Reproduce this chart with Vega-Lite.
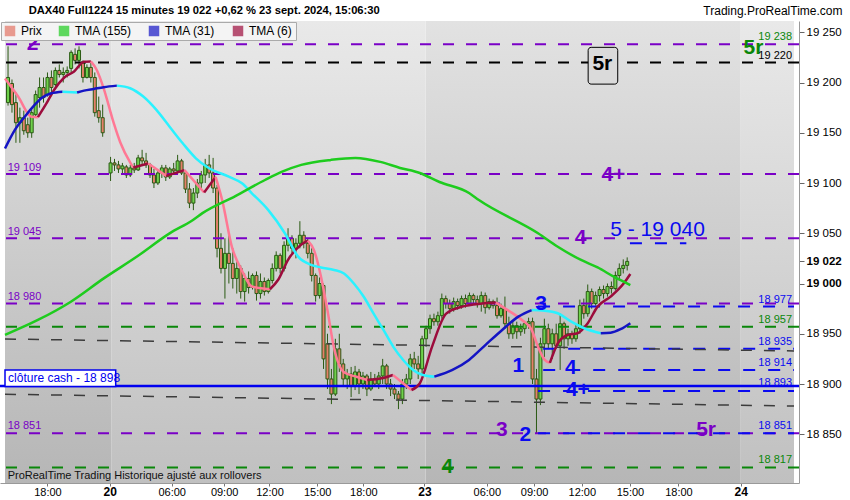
{
"$schema": "https://vega.github.io/schema/vega-lite/v6.json",
"width": 799, "height": 462,
"autosize": "none",
"padding": {"left": 0, "top": 21, "right": 51, "bottom": 17},
"background": "#ffffff",
"config": {"view": {"stroke": null}, "font": "Liberation Sans"},
"datasets": {
"bands": [{"a": -0.77, "b": 26.27, "d": "dark"}, {"a": 26.27, "b": 105.9, "d": "light"}, {"a": 105.9, "b": 185.8, "d": "dark"}, {"a": 185.8, "b": 199.3, "d": "light"}],
"bars": [
{"i":0,"o":19180,"h":19236,"l":19177,"c":19205},{"i":1,"o":19199,"h":19203,"l":19170,"c":19178},{"i":2,"o":19180,"h":19190,"l":19140,"c":19160},{"i":3,"o":19160,"h":19175,"l":19140,"c":19165},{"i":4,"o":19165,"h":19172,"l":19148,"c":19152},{"i":5,"o":19158,"h":19165,"l":19145,"c":19150},{"i":6,"o":19150,"h":19175,"l":19145,"c":19170},{"i":7,"o":19168,"h":19192,"l":19165,"c":19188},{"i":8,"o":19185,"h":19205,"l":19175,"c":19195},{"i":9,"o":19195,"h":19205,"l":19180,"c":19185},{"i":10,"o":19188,"h":19210,"l":19186,"c":19205},{"i":11,"o":19205,"h":19212,"l":19190,"c":19195},{"i":12,"o":19198,"h":19215,"l":19196,"c":19212},{"i":13,"o":19212,"h":19218,"l":19205,"c":19208},{"i":14,"o":19208,"h":19215,"l":19200,"c":19210},{"i":15,"o":19210,"h":19216,"l":19205,"c":19212},{"i":16,"o":19214,"h":19232,"l":19210,"c":19230},{"i":17,"o":19228,"h":19234,"l":19218,"c":19222},{"i":18,"o":19222,"h":19236,"l":19214,"c":19232},{"i":19,"o":19220,"h":19222,"l":19200,"c":19205},{"i":20,"o":19205,"h":19218,"l":19204,"c":19215},{"i":21,"o":19215,"h":19220,"l":19200,"c":19205},{"i":22,"o":19205,"h":19210,"l":19166,"c":19170},{"i":23,"o":19172,"h":19186,"l":19160,"c":19165},{"i":24,"o":19165,"h":19178,"l":19146,"c":19150},
{"i":26,"o":19110,"h":19126,"l":19102,"c":19120},{"i":27,"o":19120,"h":19124,"l":19112,"c":19118},{"i":28,"o":19118,"h":19122,"l":19110,"c":19114},{"i":29,"o":19114,"h":19120,"l":19108,"c":19117},{"i":30,"o":19116,"h":19118,"l":19105,"c":19108},{"i":31,"o":19108,"h":19118,"l":19106,"c":19115},{"i":32,"o":19115,"h":19120,"l":19110,"c":19113},{"i":33,"o":19113,"h":19128,"l":19112,"c":19125},{"i":34,"o":19125,"h":19133,"l":19118,"c":19122},{"i":35,"o":19122,"h":19130,"l":19115,"c":19118},{"i":36,"o":19118,"h":19120,"l":19105,"c":19108},{"i":37,"o":19108,"h":19114,"l":19095,"c":19100},{"i":38,"o":19100,"h":19112,"l":19098,"c":19110},{"i":39,"o":19110,"h":19118,"l":19105,"c":19115},{"i":40,"o":19115,"h":19118,"l":19102,"c":19106},{"i":41,"o":19106,"h":19116,"l":19104,"c":19114},{"i":42,"o":19114,"h":19120,"l":19108,"c":19112},{"i":43,"o":19112,"h":19128,"l":19110,"c":19122},{"i":44,"o":19122,"h":19124,"l":19108,"c":19110},{"i":45,"o":19110,"h":19112,"l":19090,"c":19094},{"i":46,"o":19094,"h":19100,"l":19075,"c":19080},{"i":47,"o":19080,"h":19095,"l":19073,"c":19090},{"i":48,"o":19090,"h":19104,"l":19085,"c":19100},{"i":49,"o":19100,"h":19112,"l":19095,"c":19108},{"i":50,"o":19108,"h":19124,"l":19100,"c":19118},{"i":51,"o":19118,"h":19128,"l":19105,"c":19110},{"i":52,"o":19110,"h":19125,"l":19090,"c":19095},
{"i":53,"o":19095,"h":19098,"l":19026,"c":19035},{"i":54,"o":19035,"h":19050,"l":19010,"c":19015},{"i":55,"o":19015,"h":19045,"l":18985,"c":19030},{"i":56,"o":19030,"h":19048,"l":19000,"c":19020},{"i":57,"o":19020,"h":19035,"l":18995,"c":19005},{"i":58,"o":19005,"h":19022,"l":18990,"c":19015},{"i":59,"o":19015,"h":19018,"l":18985,"c":18992},{"i":60,"o":18992,"h":19010,"l":18982,"c":19005},{"i":61,"o":19005,"h":19012,"l":18990,"c":18996},{"i":62,"o":18996,"h":19010,"l":18994,"c":19008},{"i":63,"o":19008,"h":19012,"l":18983,"c":18990},{"i":64,"o":18990,"h":19010,"l":18985,"c":19002},{"i":65,"o":19002,"h":19006,"l":18988,"c":18992},{"i":66,"o":18992,"h":19005,"l":18990,"c":19003},{"i":67,"o":19003,"h":19020,"l":19000,"c":19015},{"i":68,"o":19015,"h":19032,"l":19012,"c":19028},{"i":69,"o":19028,"h":19030,"l":19010,"c":19015},{"i":70,"o":19015,"h":19042,"l":19012,"c":19038},{"i":71,"o":19038,"h":19055,"l":19032,"c":19045},{"i":72,"o":19045,"h":19048,"l":19030,"c":19035},{"i":73,"o":19035,"h":19045,"l":19025,"c":19040},{"i":74,"o":19040,"h":19062,"l":19035,"c":19048},{"i":75,"o":19048,"h":19052,"l":19035,"c":19040},{"i":76,"o":19040,"h":19045,"l":19025,"c":19030},{"i":77,"o":19030,"h":19035,"l":19002,"c":19008},{"i":78,"o":19008,"h":19010,"l":18982,"c":18988},{"i":79,"o":18988,"h":19006,"l":18985,"c":19000},{"i":80,"o":18998,"h":19000,"l":18915,"c":18925},{"i":81,"o":18940,"h":18950,"l":18895,"c":18905},{"i":82,"o":18905,"h":18915,"l":18880,"c":18890},{"i":83,"o":18890,"h":18945,"l":18888,"c":18935},{"i":84,"o":18935,"h":18950,"l":18912,"c":18920},{"i":85,"o":18920,"h":18925,"l":18898,"c":18905},{"i":86,"o":18905,"h":18915,"l":18895,"c":18910},{"i":87,"o":18910,"h":18917,"l":18887,"c":18898},{"i":88,"o":18898,"h":18918,"l":18894,"c":18912},{"i":89,"o":18912,"h":18915,"l":18890,"c":18900},{"i":90,"o":18900,"h":18912,"l":18895,"c":18908},{"i":91,"o":18908,"h":18910,"l":18888,"c":18895},{"i":92,"o":18895,"h":18912,"l":18893,"c":18905},{"i":93,"o":18905,"h":18910,"l":18897,"c":18900},{"i":94,"o":18900,"h":18912,"l":18895,"c":18908},{"i":95,"o":18908,"h":18925,"l":18900,"c":18918},{"i":96,"o":18918,"h":18920,"l":18895,"c":18900},{"i":97,"o":18900,"h":18905,"l":18888,"c":18895},{"i":98,"o":18895,"h":18900,"l":18885,"c":18890},{"i":99,"o":18890,"h":18893,"l":18875,"c":18885},{"i":100,"o":18885,"h":18905,"l":18880,"c":18900},{"i":101,"o":18900,"h":18910,"l":18895,"c":18905},{"i":102,"o":18905,"h":18930,"l":18900,"c":18925},{"i":103,"o":18925,"h":18932,"l":18915,"c":18920},{"i":104,"o":18920,"h":18928,"l":18905,"c":18915},
{"i":105,"o":18915,"h":18948,"l":18910,"c":18945},{"i":106,"o":18945,"h":18958,"l":18937,"c":18955},{"i":107,"o":18955,"h":18969,"l":18950,"c":18965},{"i":108,"o":18965,"h":18970,"l":18958,"c":18962},{"i":109,"o":18962,"h":18972,"l":18958,"c":18968},{"i":110,"o":18968,"h":18990,"l":18965,"c":18985},{"i":111,"o":18985,"h":18988,"l":18975,"c":18980},{"i":112,"o":18980,"h":18984,"l":18970,"c":18975},{"i":113,"o":18975,"h":18986,"l":18972,"c":18982},{"i":114,"o":18982,"h":18985,"l":18974,"c":18978},{"i":115,"o":18978,"h":18988,"l":18975,"c":18985},{"i":116,"o":18985,"h":18989,"l":18976,"c":18980},{"i":117,"o":18980,"h":18991,"l":18978,"c":18988},{"i":118,"o":18988,"h":18990,"l":18980,"c":18984},{"i":119,"o":18984,"h":18988,"l":18976,"c":18980},{"i":120,"o":18980,"h":18992,"l":18972,"c":18988},{"i":121,"o":18988,"h":18991,"l":18970,"c":18976},{"i":122,"o":18976,"h":18985,"l":18974,"c":18982},{"i":123,"o":18982,"h":18984,"l":18975,"c":18978},{"i":124,"o":18978,"h":18986,"l":18965,"c":18968},{"i":125,"o":18968,"h":18980,"l":18966,"c":18975},{"i":126,"o":18975,"h":18987,"l":18955,"c":18960},{"i":127,"o":18960,"h":18967,"l":18945,"c":18950},{"i":128,"o":18950,"h":18962,"l":18945,"c":18958},{"i":129,"o":18958,"h":18962,"l":18945,"c":18952},{"i":130,"o":18952,"h":18960,"l":18948,"c":18955},{"i":131,"o":18955,"h":18962,"l":18950,"c":18960},{"i":132,"o":18960,"h":18966,"l":18955,"c":18962},{"i":133,"o":18962,"h":18966,"l":18900,"c":18905},{"i":134,"o":18905,"h":18915,"l":18851,"c":18885},{"i":135,"o":18885,"h":18946,"l":18879,"c":18940},{"i":136,"o":18940,"h":18965,"l":18927,"c":18955},{"i":137,"o":18955,"h":18960,"l":18935,"c":18940},{"i":138,"o":18940,"h":18955,"l":18925,"c":18950},{"i":139,"o":18950,"h":18960,"l":18935,"c":18938},{"i":140,"o":18938,"h":18970,"l":18914,"c":18960},{"i":141,"o":18960,"h":18962,"l":18935,"c":18945},{"i":142,"o":18945,"h":18955,"l":18938,"c":18950},{"i":143,"o":18950,"h":18953,"l":18940,"c":18945},{"i":144,"o":18945,"h":18960,"l":18942,"c":18955},{"i":145,"o":18955,"h":18984,"l":18950,"c":18978},{"i":146,"o":18978,"h":18985,"l":18965,"c":18970},{"i":147,"o":18970,"h":18999,"l":18967,"c":18992},{"i":148,"o":18992,"h":18995,"l":18975,"c":18980},{"i":149,"o":18980,"h":18992,"l":18978,"c":18988},{"i":150,"o":18988,"h":18997,"l":18982,"c":18994},{"i":151,"o":18994,"h":18998,"l":18985,"c":18990},{"i":152,"o":18990,"h":19000,"l":18987,"c":18997},{"i":153,"o":18997,"h":19002,"l":18990,"c":18995},{"i":154,"o":18995,"h":19012,"l":18993,"c":19008},{"i":155,"o":19008,"h":19020,"l":19003,"c":19015},{"i":156,"o":19015,"h":19024,"l":19010,"c":19018},{"i":157,"o":19018,"h":19026,"l":19013,"c":19022}
],
"tma": [
{"g":"a1","k":"TMA (6) dn","i":-0.77,"v":19204},{"g":"a1","k":"TMA (6) dn","i":2.56,"v":19186},{"g":"a1","k":"TMA (6) dn","i":5.92,"v":19166},{"g":"a1","k":"TMA (6) dn","i":7.57,"v":19165.5},
{"g":"a2","k":"TMA (6)","i":7.57,"v":19165.5},{"g":"a2","k":"TMA (6)","i":10,"v":19181},{"g":"a2","k":"TMA (6)","i":11.75,"v":19193},{"g":"a2","k":"TMA (6)","i":14.26,"v":19205},{"g":"a2","k":"TMA (6)","i":16.76,"v":19211},{"g":"a2","k":"TMA (6)","i":19.26,"v":19220.7},{"g":"a2","k":"TMA (6)","i":21,"v":19221},
{"g":"a3","k":"TMA (6) dn","i":21,"v":19221},{"g":"a3","k":"TMA (6) dn","i":22.5,"v":19212.5},{"g":"a3","k":"TMA (6) dn","i":24.27,"v":19194},{"g":"a3","k":"TMA (6) dn","i":26.77,"v":19160},{"g":"a3","k":"TMA (6) dn","i":28.5,"v":19140},{"g":"a3","k":"TMA (6) dn","i":31.03,"v":19120},{"g":"a3","k":"TMA (6) dn","i":31.78,"v":19115.4},
{"g":"a4","k":"TMA (6)","i":31.78,"v":19115.4},{"g":"a4","k":"TMA (6)","i":35.54,"v":19119.4},
{"g":"a5","k":"TMA (6) dn","i":35.54,"v":19119.4},{"g":"a5","k":"TMA (6) dn","i":40.12,"v":19107.1},
{"g":"a6","k":"TMA (6)","i":40.12,"v":19107.1},{"g":"a6","k":"TMA (6)","i":44.73,"v":19112.8},
{"g":"a7","k":"TMA (6) dn","i":44.73,"v":19112.8},{"g":"a7","k":"TMA (6) dn","i":49.73,"v":19090.6},
{"g":"a8","k":"TMA (6)","i":49.73,"v":19090.6},{"g":"a8","k":"TMA (6)","i":52.64,"v":19106.1},
{"g":"a9","k":"TMA (6) dn","i":52.64,"v":19106.1},{"g":"a9","k":"TMA (6) dn","i":54.3,"v":19083},{"g":"a9","k":"TMA (6) dn","i":56.8,"v":19036},{"g":"a9","k":"TMA (6) dn","i":59.3,"v":19013},{"g":"a9","k":"TMA (6) dn","i":61.83,"v":18997},{"g":"a9","k":"TMA (6) dn","i":66.41,"v":18994.3},
{"g":"a10","k":"TMA (6)","i":66.41,"v":18994.3},{"g":"a10","k":"TMA (6)","i":68.5,"v":19003.7},{"g":"a10","k":"TMA (6)","i":71.0,"v":19023.6},{"g":"a10","k":"TMA (6)","i":74.3,"v":19038.6},{"g":"a10","k":"TMA (6)","i":76.02,"v":19042.7},
{"g":"a11","k":"TMA (6) dn","i":76.02,"v":19042.7},{"g":"a11","k":"TMA (6) dn","i":77.6,"v":19033},{"g":"a11","k":"TMA (6) dn","i":79.35,"v":19007},{"g":"a11","k":"TMA (6) dn","i":81.1,"v":18971},{"g":"a11","k":"TMA (6) dn","i":82.6,"v":18937},{"g":"a11","k":"TMA (6) dn","i":85.1,"v":18912},{"g":"a11","k":"TMA (6) dn","i":88.54,"v":18907},{"g":"a11","k":"TMA (6) dn","i":91.1,"v":18904},
{"g":"a12","k":"TMA (6)","i":91.1,"v":18904},{"g":"a12","k":"TMA (6)","i":95.1,"v":18906},{"g":"a12","k":"TMA (6)","i":97.6,"v":18909},
{"g":"a13","k":"TMA (6) dn","i":97.6,"v":18909},{"g":"a13","k":"TMA (6) dn","i":100.1,"v":18901},{"g":"a13","k":"TMA (6) dn","i":102.3,"v":18894},
{"g":"a14","k":"TMA (6)","i":102.3,"v":18894},{"g":"a14","k":"TMA (6)","i":104.4,"v":18900.5},{"g":"a14","k":"TMA (6)","i":107.6,"v":18938},{"g":"a14","k":"TMA (6)","i":111.1,"v":18970},{"g":"a14","k":"TMA (6)","i":115.2,"v":18977},{"g":"a14","k":"TMA (6)","i":120.2,"v":18980},{"g":"a14","k":"TMA (6)","i":123.7,"v":18981},
{"g":"a15","k":"TMA (6) dn","i":123.7,"v":18981},{"g":"a15","k":"TMA (6) dn","i":126.9,"v":18973},{"g":"a15","k":"TMA (6) dn","i":130.3,"v":18963.7},{"g":"a15","k":"TMA (6) dn","i":132.8,"v":18953.8},{"g":"a15","k":"TMA (6) dn","i":134.4,"v":18937},{"g":"a15","k":"TMA (6) dn","i":136.1,"v":18924},{"g":"a15","k":"TMA (6) dn","i":137.4,"v":18921},
{"g":"a16","k":"TMA (6)","i":137.4,"v":18921},{"g":"a16","k":"TMA (6)","i":139.4,"v":18940.5},{"g":"a16","k":"TMA (6)","i":141.9,"v":18948.8},{"g":"a16","k":"TMA (6)","i":144.4,"v":18950.5},{"g":"a16","k":"TMA (6)","i":146.9,"v":18960},{"g":"a16","k":"TMA (6)","i":149.5,"v":18977},{"g":"a16","k":"TMA (6)","i":152.8,"v":18987},{"g":"a16","k":"TMA (6)","i":156.1,"v":19000},{"g":"a16","k":"TMA (6)","i":157.8,"v":19009.5},
{"g":"b1","k":"TMA (31)","i":-0.77,"v":19134.3},{"g":"b1","k":"TMA (31)","i":1.74,"v":19152.8},{"g":"b1","k":"TMA (31)","i":4.24,"v":19166},{"g":"b1","k":"TMA (31)","i":6.75,"v":19177.7},{"g":"b1","k":"TMA (31)","i":8.42,"v":19184.3},{"g":"b1","k":"TMA (31)","i":10.93,"v":19189.3},{"g":"b1","k":"TMA (31)","i":13.83,"v":19190.9},
{"g":"b2","k":"TMA (31) dn","i":13.83,"v":19190.9},{"g":"b2","k":"TMA (31) dn","i":17.51,"v":19190},
{"g":"b3","k":"TMA (31)","i":17.51,"v":19190},{"g":"b3","k":"TMA (31)","i":19.26,"v":19191.9},{"g":"b3","k":"TMA (31)","i":21.77,"v":19193.6},{"g":"b3","k":"TMA (31)","i":24.27,"v":19195.3},{"g":"b3","k":"TMA (31)","i":27.6,"v":19196.9},
{"g":"b4","k":"TMA (31) dn","i":27.6,"v":19196.9},{"g":"b4","k":"TMA (31) dn","i":30.96,"v":19194.3},{"g":"b4","k":"TMA (31) dn","i":34.29,"v":19186},{"g":"b4","k":"TMA (31) dn","i":37.62,"v":19172.7},{"g":"b4","k":"TMA (31) dn","i":40.97,"v":19156},{"g":"b4","k":"TMA (31) dn","i":44.3,"v":19139.5},{"g":"b4","k":"TMA (31) dn","i":47.63,"v":19124.6},{"g":"b4","k":"TMA (31) dn","i":50.99,"v":19114.7},{"g":"b4","k":"TMA (31) dn","i":55.99,"v":19106.3},{"g":"b4","k":"TMA (31) dn","i":59.32,"v":19099.7},{"g":"b4","k":"TMA (31) dn","i":61.83,"v":19089.8},{"g":"b4","k":"TMA (31) dn","i":66.0,"v":19073},{"g":"b4","k":"TMA (31) dn","i":70.2,"v":19050},{"g":"b4","k":"TMA (31) dn","i":73.5,"v":19027},{"g":"b4","k":"TMA (31) dn","i":76.85,"v":19018.6},{"g":"b4","k":"TMA (31) dn","i":79.35,"v":19016},{"g":"b4","k":"TMA (31) dn","i":82.68,"v":19013.5},{"g":"b4","k":"TMA (31) dn","i":85.19,"v":19010},{"g":"b4","k":"TMA (31) dn","i":87.69,"v":19000},{"g":"b4","k":"TMA (31) dn","i":90.2,"v":18986.8},{"g":"b4","k":"TMA (31) dn","i":92.7,"v":18970},{"g":"b4","k":"TMA (31) dn","i":95.2,"v":18953.8},{"g":"b4","k":"TMA (31) dn","i":97.7,"v":18937},{"g":"b4","k":"TMA (31) dn","i":100.2,"v":18923.9},{"g":"b4","k":"TMA (31) dn","i":102.7,"v":18914},{"g":"b4","k":"TMA (31) dn","i":105.2,"v":18909},{"g":"b4","k":"TMA (31) dn","i":108.1,"v":18907.3},
{"g":"b5","k":"TMA (31)","i":108.1,"v":18907.3},{"g":"b5","k":"TMA (31)","i":112.7,"v":18914},{"g":"b5","k":"TMA (31)","i":116.9,"v":18924},{"g":"b5","k":"TMA (31)","i":121.1,"v":18939},{"g":"b5","k":"TMA (31)","i":125.3,"v":18953.8},{"g":"b5","k":"TMA (31)","i":129.4,"v":18967},{"g":"b5","k":"TMA (31)","i":132.8,"v":18973.6},
{"g":"b6","k":"TMA (31) dn","i":132.8,"v":18973.6},{"g":"b6","k":"TMA (31) dn","i":136.1,"v":18973},{"g":"b6","k":"TMA (31) dn","i":139.4,"v":18970.4},{"g":"b6","k":"TMA (31) dn","i":142.8,"v":18962},{"g":"b6","k":"TMA (31) dn","i":146.1,"v":18955.5},{"g":"b6","k":"TMA (31) dn","i":150.3,"v":18950.5},
{"g":"b7","k":"TMA (31)","i":150.3,"v":18950.5},{"g":"b7","k":"TMA (31)","i":152.8,"v":18951},{"g":"b7","k":"TMA (31)","i":155.3,"v":18954.5},{"g":"b7","k":"TMA (31)","i":157.8,"v":18960.5},
{"g":"c1","k":"TMA (155)","i":-0.77,"v":18948.9},{"g":"c1","k":"TMA (155)","i":7.57,"v":18963.7},{"g":"c1","k":"TMA (155)","i":15.93,"v":18981.9},{"g":"c1","k":"TMA (155)","i":24.27,"v":19005.1},{"g":"c1","k":"TMA (155)","i":32.6,"v":19026.6},{"g":"c1","k":"TMA (155)","i":40.97,"v":19049.9},{"g":"c1","k":"TMA (155)","i":46.8,"v":19063},{"g":"c1","k":"TMA (155)","i":49.3,"v":19070},{"g":"c1","k":"TMA (155)","i":57.65,"v":19087},{"g":"c1","k":"TMA (155)","i":65.16,"v":19103},{"g":"c1","k":"TMA (155)","i":69.35,"v":19111},{"g":"c1","k":"TMA (155)","i":74.35,"v":19118},{"g":"c1","k":"TMA (155)","i":81.86,"v":19123},{"g":"c1","k":"TMA (155)","i":88.1,"v":19125},{"g":"c1","k":"TMA (155)","i":94.4,"v":19121},{"g":"c1","k":"TMA (155)","i":99.4,"v":19115},{"g":"c1","k":"TMA (155)","i":104.4,"v":19110},{"g":"c1","k":"TMA (155)","i":109.4,"v":19101},{"g":"c1","k":"TMA (155)","i":116.9,"v":19090},{"g":"c1","k":"TMA (155)","i":119.4,"v":19083},{"g":"c1","k":"TMA (155)","i":134.4,"v":19050},{"g":"c1","k":"TMA (155)","i":139.4,"v":19036.6},{"g":"c1","k":"TMA (155)","i":145.3,"v":19023.4},{"g":"c1","k":"TMA (155)","i":149.5,"v":19016},{"g":"c1","k":"TMA (155)","i":153.6,"v":19006.8},{"g":"c1","k":"TMA (155)","i":157.8,"v":18998.5}
],
"levels": [{"p":19238,"k":"purple"},{"p":19220,"k":"black"},{"p":19109,"k":"purple"},{"p":19045,"k":"purple"},{"p":18980,"k":"purple"},{"p":18957,"k":"green"},{"p":18851,"k":"purple"},{"p":18817,"k":"green"}],
"partial": [{"p":18977,"a":134.4,"b":199.3},{"p":18935,"a":135.7,"b":199.3},{"p":18914,"a":135.7,"b":199.3},{"p":18893,"a":134.4,"b":199.3},{"p":18851,"a":134.4,"b":199.3},{"p":19040,"a":157.7,"b":172}],
"trend": [{"a":-0.77,"p0":18944.8,"b":199.3,"p1":18932.9},{"a":-0.77,"p0":18889.8,"b":199.3,"p1":18878.1}],
"big": [{"i":6.2,"p":19238,"t":"2","k":"purple"},{"i":189,"p":19234,"t":"5r","k":"green"},{"i":153.5,"p":19108,"t":"4+","k":"purple"},{"i":145.2,"p":19045,"t":"4","k":"purple"},{"i":135.2,"p":18980,"t":"3","k":"blue"},{"i":129.4,"p":18918,"t":"1","k":"blue"},{"i":142.7,"p":18916,"t":"4","k":"blue"},{"i":144.5,"p":18894,"t":"4+","k":"blue"},{"i":125.2,"p":18854,"t":"3","k":"purple"},{"i":131.2,"p":18849,"t":"2","k":"blue"},{"i":177,"p":18854,"t":"5r","k":"purple"},{"i":111.4,"p":18817,"t":"4","k":"green"},{"i":150.7,"p":19218,"t":"5r","k":"black"}],
"leftlab": [{"p":19246,"t":"19 238"},{"p":19115.3,"t":"19 109"},{"p":19050.8,"t":"19 045"},{"p":18986.3,"t":"18 980"},{"p":18858.6,"t":"18 851"}],
"rightlab": [{"p":19245.3,"t":"19 238","k":"green"},{"p":19226.4,"t":"19 220","k":"black"},{"p":18983.8,"t":"18 977","k":"blue"},{"p":18963.9,"t":"18 957","k":"green"},{"p":18941.8,"t":"18 935","k":"blue"},{"p":18920.9,"t":"18 914","k":"blue"},{"p":18901,"t":"18 893","k":"blue"},{"p":18858,"t":"18 851","k":"blue"},{"p":18824.4,"t":"18 817","k":"green"}]
},
"layer": [
{"data": {"name": "bands"}, "transform": [{"filter": "datum.d == 'dark'"}],
 "mark": {"type": "rect", "color": {"gradient": "linear", "x1": 0, "y1": 0, "x2": 0, "y2": 1, "stops": [{"offset": 0, "color": "#e2e2e2"}, {"offset": 1, "color": "#b6b6b6"}]}},
 "encoding": {"x": {"field": "a", "type": "quantitative", "scale": {"domain": [-0.77, 199.3], "nice": false, "zero": false}}, "x2": {"field": "b"}}},
{"data": {"name": "bands"}, "transform": [{"filter": "datum.d == 'light'"}],
 "mark": {"type": "rect", "color": {"gradient": "linear", "x1": 0, "y1": 0, "x2": 0, "y2": 1, "stops": [{"offset": 0, "color": "#e9e9e9"}, {"offset": 1, "color": "#c0c0c0"}]}},
 "encoding": {"x": {"field": "a", "type": "quantitative", "scale": {"domain": [-0.77, 199.3], "nice": false, "zero": false}}, "x2": {"field": "b"}}},
{"data": {"name": "bars"}, "mark": {"type": "rule", "color": "#2b5a14", "strokeWidth": 1, "clip": true},
 "encoding": {
  "x": {"field": "i", "type": "quantitative", "scale": {"domain": [-0.77, 199.3], "nice": false, "zero": false},
   "axis": {"title": null, "grid": false, "values": [10, 25.8, 41.5, 54.8, 66.3, 78.4, 90.1, 105.6, 121.4, 133.4, 145.5, 157.7, 170, 185.8],
    "labelExpr": "['18:00','20','06:00','09:00','12:00','15:00','18:00','23','06:00','09:00','12:00','15:00','18:00','24'][indexof([10,25.8,41.5,54.8,66.3,78.4,90.1,105.6,121.4,133.4,145.5,157.7,170,185.8], datum.value)]",
    "labelFont": "Liberation Sans", "labelFontSize": {"condition": {"test": "datum.value == 25.8 || datum.value == 105.6 || datum.value == 185.8", "value": 12}, "value": 11},
    "labelFontWeight": {"condition": {"test": "datum.value == 25.8 || datum.value == 105.6 || datum.value == 185.8", "value": "bold"}, "value": "normal"},
    "labelColor": "#000000", "labelPadding": 0, "tickSize": 3, "tickColor": "#777777", "domainColor": "#999999", "labelOverlap": false, "labelFlush": false}},
  "y": {"field": "l", "type": "quantitative", "scale": {"domain": [18801.5, 19261.2], "nice": false, "zero": false},
   "axis": {"orient": "right", "grid": false, "title": null, "values": [18850, 18900, 18950, 19000, 19022, 19050, 19100, 19150, 19200, 19250],
    "labelExpr": "replace(format(datum.value, ','), ',', ' ')",
    "labelFont": "Liberation Sans", "labelFontSize": 11.5, "labelColor": "#000000",
    "labelFontWeight": {"condition": {"test": "datum.value == 19000 || datum.value == 19022", "value": "bold"}, "value": "normal"},
    "labelPadding": 2, "tickSize": 5, "tickColor": "#666666", "domainColor": "#999999", "labelOverlap": false}},
  "y2": {"field": "h"}}},
{"data": {"name": "bars"}, "mark": {"type": "bar", "size": 3, "stroke": "#2b5a14", "strokeWidth": 1, "clip": true},
 "encoding": {"x": {"field": "i", "type": "quantitative", "scale": {"domain": [-0.77, 199.3], "nice": false, "zero": false}},
  "y": {"field": "o", "type": "quantitative", "scale": {"domain": [18801.5, 19261.2], "nice": false, "zero": false}},
  "y2": {"field": "c"},
  "fill": {"condition": {"test": "datum.c >= datum.o", "value": "#6fd24c"}, "value": "#e5806a"}}},
{"data": {"name": "levels"}, "mark": {"type": "rule", "strokeDash": [11, 12], "strokeWidth": 2},
 "encoding": {"y": {"field": "p", "type": "quantitative", "scale": {"domain": [18801.5, 19261.2], "nice": false, "zero": false}},
  "color": {"field": "k", "type": "nominal", "scale": {"domain": ["purple", "blue", "green", "black"], "range": ["#7a00c6", "#0a0af0", "#0a870a", "#000000"]}, "legend": null}}},
{"data": {"name": "partial"}, "mark": {"type": "rule", "strokeDash": [12, 13], "strokeWidth": 2, "color": "#0a0af0", "clip": true},
 "encoding": {"x": {"field": "a", "type": "quantitative", "scale": {"domain": [-0.77, 199.3], "nice": false, "zero": false}}, "x2": {"field": "b"},
  "y": {"field": "p", "type": "quantitative", "scale": {"domain": [18801.5, 19261.2], "nice": false, "zero": false}}}},
{"data": {"name": "trend"}, "mark": {"type": "rule", "strokeDash": [11, 12], "strokeWidth": 1.5, "color": "#3c3c3c", "clip": true},
 "encoding": {"x": {"field": "a", "type": "quantitative", "scale": {"domain": [-0.77, 199.3], "nice": false, "zero": false}}, "x2": {"field": "b"},
  "y": {"field": "p0", "type": "quantitative", "scale": {"domain": [18801.5, 19261.2], "nice": false, "zero": false}}, "y2": {"field": "p1"}}},
{"data": {"values": [{"p": 18898}]}, "mark": {"type": "rule", "strokeWidth": 2.5, "color": "#0000f0"},
 "encoding": {"y": {"field": "p", "type": "quantitative", "scale": {"domain": [18801.5, 19261.2], "nice": false, "zero": false}}}},
{"data": {"name": "tma"}, "mark": {"type": "line", "strokeWidth": 2.5, "interpolate": "monotone", "clip": true},
 "encoding": {"x": {"field": "i", "type": "quantitative", "scale": {"domain": [-0.77, 199.3], "nice": false, "zero": false}},
  "y": {"field": "v", "type": "quantitative", "scale": {"domain": [18801.5, 19261.2], "nice": false, "zero": false}},
  "stroke": {"field": "k", "type": "nominal", "scale": {"domain": ["TMA (155)", "TMA (31)", "TMA (31) dn", "TMA (6)", "TMA (6) dn"], "range": ["#1ecc1e", "#1414c4", "#2af2ff", "#9c0c3c", "#ff7894"]}, "legend": null},
  "detail": {"field": "g"}}},
{"data": {"values": [{"a": -0.77, "b": 27.3, "p0": 18897.5, "p1": 18914}]}, "mark": {"type": "rect", "fill": "#ffffff", "stroke": "#0000f0", "strokeWidth": 1.5},
 "encoding": {"x": {"field": "a", "type": "quantitative", "scale": {"domain": [-0.77, 199.3], "nice": false, "zero": false}}, "x2": {"field": "b"},
  "y": {"field": "p0", "type": "quantitative", "scale": {"domain": [18801.5, 19261.2], "nice": false, "zero": false}}, "y2": {"field": "p1"}}},
{"data": {"values": [{"t": "clôture cash -  18 898"}]}, "mark": {"type": "text", "align": "left", "baseline": "middle", "font": "Liberation Sans", "fontSize": 12, "color": "#0000f0"},
 "encoding": {"x": {"datum": 0, "type": "quantitative", "scale": {"domain": [-0.77, 199.3], "nice": false, "zero": false}},
  "y": {"datum": 18905.5, "type": "quantitative", "scale": {"domain": [18801.5, 19261.2], "nice": false, "zero": false}}, "text": {"field": "t"}}},
{"data": {"values": [{"a": 147.1, "b": 154.6, "p0": 19198.4, "p1": 19235}]}, "mark": {"type": "rect", "fill": "#dadada", "stroke": "#000000", "strokeWidth": 1, "cornerRadius": 3},
 "encoding": {"x": {"field": "a", "type": "quantitative", "scale": {"domain": [-0.77, 199.3], "nice": false, "zero": false}}, "x2": {"field": "b"},
  "y": {"field": "p0", "type": "quantitative", "scale": {"domain": [18801.5, 19261.2], "nice": false, "zero": false}}, "y2": {"field": "p1"}}},
{"data": {"name": "big"}, "mark": {"type": "text", "align": "center", "baseline": "middle", "font": "Liberation Sans", "fontSize": 21, "fontWeight": "bold"},
 "encoding": {"x": {"field": "i", "type": "quantitative", "scale": {"domain": [-0.77, 199.3], "nice": false, "zero": false}},
  "y": {"field": "p", "type": "quantitative", "scale": {"domain": [18801.5, 19261.2], "nice": false, "zero": false}},
  "text": {"field": "t"},
  "color": {"field": "k", "type": "nominal", "scale": {"domain": ["purple", "blue", "green", "black"], "range": ["#7a00c6", "#0a0af0", "#0a870a", "#000000"]}, "legend": null}}},
{"data": {"values": [{"t": "5 - 19 040"}]}, "mark": {"type": "text", "align": "center", "baseline": "middle", "font": "Liberation Sans", "fontSize": 21, "color": "#0a0af0"},
 "encoding": {"x": {"datum": 164.7, "type": "quantitative", "scale": {"domain": [-0.77, 199.3], "nice": false, "zero": false}},
  "y": {"datum": 19053, "type": "quantitative", "scale": {"domain": [18801.5, 19261.2], "nice": false, "zero": false}}, "text": {"field": "t"}}},
{"data": {"name": "leftlab"}, "mark": {"type": "text", "align": "left", "baseline": "middle", "font": "Liberation Sans", "fontSize": 11, "color": "#7a00c6"},
 "encoding": {"x": {"datum": -0.1, "type": "quantitative", "scale": {"domain": [-0.77, 199.3], "nice": false, "zero": false}},
  "y": {"field": "p", "type": "quantitative", "scale": {"domain": [18801.5, 19261.2], "nice": false, "zero": false}}, "text": {"field": "t"}}},
{"data": {"name": "rightlab"}, "mark": {"type": "text", "align": "right", "baseline": "middle", "font": "Liberation Sans", "fontSize": 11},
 "encoding": {"x": {"datum": 198.8, "type": "quantitative", "scale": {"domain": [-0.77, 199.3], "nice": false, "zero": false}},
  "y": {"field": "p", "type": "quantitative", "scale": {"domain": [18801.5, 19261.2], "nice": false, "zero": false}}, "text": {"field": "t"},
  "color": {"field": "k", "type": "nominal", "scale": {"domain": ["purple", "blue", "green", "black"], "range": ["#7a00c6", "#0a0af0", "#0a870a", "#000000"]}, "legend": null}}},
{"data": {"values": [{"t": "ProRealTime Trading Historique ajusté aux rollovers"}]}, "mark": {"type": "text", "align": "left", "baseline": "middle", "font": "Liberation Sans", "fontSize": 11, "color": "#111111"},
 "encoding": {"x": {"datum": -0.1, "type": "quantitative", "scale": {"domain": [-0.77, 199.3], "nice": false, "zero": false}},
  "y": {"datum": 18808.5, "type": "quantitative", "scale": {"domain": [18801.5, 19261.2], "nice": false, "zero": false}}, "text": {"field": "t"}}},
{"data": {"values": [{"t": "DAX40 Full1224 15 minutes 19 022 +0,62 % 23 sept. 2024, 15:06:30"}]}, "mark": {"type": "text", "align": "left", "baseline": "middle", "font": "Liberation Sans", "fontSize": 11.2, "fontWeight": "bold", "color": "#000000"},
 "encoding": {"x": {"datum": 5.24, "type": "quantitative", "scale": {"domain": [-0.77, 199.3], "nice": false, "zero": false}},
  "y": {"datum": 19271.2, "type": "quantitative", "scale": {"domain": [18801.5, 19261.2], "nice": false, "zero": false}}, "text": {"field": "t"}}},
{"data": {"values": [{"t": "Trading.ProRealTime.com"}]}, "mark": {"type": "text", "align": "right", "baseline": "middle", "font": "Liberation Sans", "fontSize": 12, "color": "#000000"},
 "encoding": {"x": {"datum": 211.6, "type": "quantitative", "scale": {"domain": [-0.77, 199.3], "nice": false, "zero": false}},
  "y": {"datum": 19271.2, "type": "quantitative", "scale": {"domain": [18801.5, 19261.2], "nice": false, "zero": false}}, "text": {"field": "t"}}},
{"data": {"values": []}, "mark": {"type": "square"},
 "encoding": {"fill": {"field": "s", "type": "nominal", "scale": {"domain": ["Prix", "TMA (155)", "TMA (31)", "TMA (6)"], "range": ["#e37364", "#1ecc1e", "#1414c4", "#9c0c3c"]},
  "legend": {"orient": "none", "legendX": 1, "legendY": 1, "direction": "horizontal", "title": null, "symbolType": "square", "symbolSize": 110, "symbolStrokeWidth": 0, "labelFont": "Liberation Sans", "labelFontSize": 12, "labelColor": "#000000", "fillColor": "#f4f4f4", "strokeColor": "#aaaaaa", "padding": 3, "columnPadding": 16, "labelOffset": 5}}}}
]
}
